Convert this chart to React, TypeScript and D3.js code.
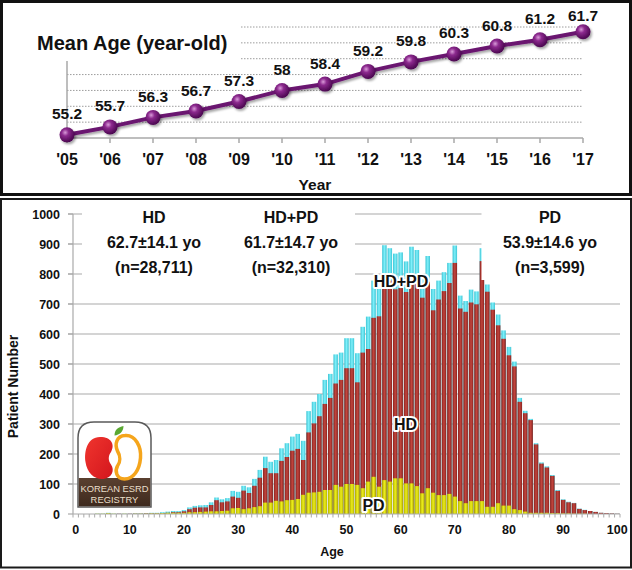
import React from 'react';
import * as d3 from 'd3';

// ---- Mean age by year ----
const years = ["'05", "'06", "'07", "'08", "'09", "'10", "'11", "'12", "'13", "'14", "'15", "'16", "'17"];
const meanAge = [55.2, 55.7, 56.3, 56.7, 57.3, 58, 58.4, 59.2, 59.8, 60.3, 60.8, 61.2, 61.7];
const meanAgeGrid = [56, 57, 58, 59, 60, 61, 62];

// ---- Patient number by age ----
const ages = d3.range(0, 101);
const hdCounts = [
  0, 0, 0, 0, 0, 0, 1, 0, 1, 0,
  1, 1, 1, 2, 2, 2, 3, 4, 6, 6,
  9, 16, 21, 22, 22, 30, 46, 39, 42, 58,
  54, 78, 70, 94, 121, 153, 136, 136, 177, 190,
  211, 217, 180, 272, 302, 326, 367, 387, 435, 447,
  486, 486, 439, 538, 550, 654, 659, 783, 778, 749,
  753, 740, 789, 787, 721, 774, 679, 715, 743, 770,
  837, 685, 674, 705, 699, 843, 741, 681, 629, 584,
  529, 492, 374, 336, 313, 232, 168, 155, 127, 77,
  47, 39, 36, 17, 13, 10, 7, 4, 3, 2,
  1,
];
const pdCounts = [
  0, 0, 0, 0, 1, 1, 3, 1, 0, 1,
  0, 1, 1, 1, 2, 2, 3, 4, 4, 4,
  4, 6, 6, 7, 8, 9, 9, 10, 11, 19,
  20, 16, 19, 23, 26, 38, 38, 44, 42, 46,
  47, 50, 64, 71, 72, 74, 80, 80, 97, 91,
  100, 100, 97, 86, 108, 124, 91, 113, 108, 119,
  119, 102, 102, 93, 69, 86, 71, 63, 63, 67,
  58, 43, 36, 43, 43, 43, 24, 24, 36, 28,
  28, 16, 13, 8, 4, 4, 4, 4, 3, 3,
  2, 2, 1, 1, 1, 0, 0, 0, 0, 0,
  0,
];
const countTicks = d3.range(0, 1001, 100);
const ageTicks = d3.range(0, 101, 10);

// ---- Group summaries ----
const groupNames = ['HD', 'HD+PD', 'PD'];
const groupMeans = ['62.7\u00B114.1 yo', '61.7\u00B114.7 yo', '53.9\u00B114.6 yo'];
const groupSizes = ['(n=28,711)', '(n=32,310)', '(n=3,599)'];

const FONT = "Arial, 'Liberation Sans', Helvetica, sans-serif";

function MeanAgePanel() {
  const x = d3.scalePoint<string>().domain(years).range([67, 583]);
  const y = d3.scaleLinear().domain([55, 62]).range([138, 27]);
  const line = d3
    .line<number>()
    .x((_, i) => x(years[i]) as number)
    .y((d) => y(d));
  return (
    <g>
      <rect x={1.5} y={1.5} width={629} height={193} fill="#fff" stroke="#111" strokeWidth={3} />
      {meanAgeGrid.map((t) => (
        <line key={t} x1={67} x2={583} y1={y(t)} y2={y(t)} stroke="#9c9c9c" strokeWidth={1} strokeDasharray="1.5,1.5" />
      ))}
      <line x1={67} x2={67} y1={138} y2={27} stroke="#a8a8a8" strokeWidth={1.5} />
      <line x1={67} x2={583} y1={138} y2={138} stroke="#a8a8a8" strokeWidth={1.5} />
      {years.map((yr) => (
        <line key={yr} x1={x(yr)} x2={x(yr)} y1={138} y2={143} stroke="#a8a8a8" strokeWidth={1.5} />
      ))}
      <rect x={27} y={24} width={214} height={37} fill="#fff" />
      <text x={37} y={50} fontFamily={FONT} fontWeight="bold" fontSize={20} fill="#111">
        Mean Age (year-old)
      </text>
      <path d={line(meanAge) || ''} fill="none" stroke="#6a1570" strokeWidth={4} filter="url(#shadow)" />
      {meanAge.map((v, i) => (
        <circle key={i} cx={x(years[i])} cy={y(v)} r={7.5} fill="url(#ball)" filter="url(#shadow)" />
      ))}
      {meanAge.map((v, i) => (
        <text
          key={'l' + i}
          x={x(years[i])}
          y={Math.max(y(v) - 15.5, 20.5)}
          textAnchor="middle"
          fontFamily={FONT}
          fontWeight="bold"
          fontSize={15.5}
          fill="#111"
        >
          {String(v)}
        </text>
      ))}
      {years.map((yr) => (
        <text key={'t' + yr} x={x(yr)} y={165} textAnchor="middle" fontFamily={FONT} fontWeight="bold" fontSize={16} fill="#111">
          {yr}
        </text>
      ))}
      <text x={315} y={190} textAnchor="middle" fontFamily={FONT} fontWeight="bold" fontSize={15.5} fill="#111">
        Year
      </text>
    </g>
  );
}

function Logo() {
  return (
    <g>
      <path d="M78,507 L78,438 Q78,422 94,422 L135,422 Q151,422 151,438 L151,507 Z" fill="#fff" stroke="#5a5a5a" strokeWidth={1.5} />
      <rect x={78.75} y={478} width={71.5} height={28.25} fill="url(#soil)" />
      <path
        d="M100,437 C87,437 84,452 85.5,462 C87,473 95,480 103.5,479 C112,478 115,470 111,464.5 C108,460.5 108,456 111,452 C115,445 112,437 100,437 Z"
        fill="url(#apple)"
      />
      <path
        d="M125,435.5 C135.5,434.5 141.5,447 140.5,458 C139.5,470 133.5,479 124.5,479 C116.5,479 114.5,471 117.5,466 C120.5,462 120.5,456 117.5,451 C114.5,444 116.5,436 125,435.5 Z"
        fill="#fff"
        stroke="#f5a51c"
        strokeWidth={3.5}
      />
      <path d="M114.5,435.5 C114.5,430 118,427 123.5,426 C123.5,431.5 119.5,435 114.5,435.5 Z" fill="#5aa832" />
      <text x={114.5} y={491.5} textAnchor="middle" fontFamily={FONT} fontSize={9.4} fill="#eadfca">
        KOREAN ESRD
      </text>
      <text x={114.5} y={503} textAnchor="middle" fontFamily={FONT} fontSize={9.4} fill="#eadfca">
        REGISTRY
      </text>
    </g>
  );
}

function AgePanel() {
  const x = d3.scaleBand<number>().domain(ages).range([73, 620]).paddingInner(0.17).paddingOuter(0.085);
  const y = d3.scaleLinear().domain([0, 1000]).range([514, 214]);
  const step = x.step();
  const groupX = [154, 291, 550];
  const halo = { paintOrder: 'stroke' as const, stroke: '#fff', strokeWidth: 4, strokeLinejoin: 'round' as const };
  return (
    <g>
      <rect x={1} y={199} width={630} height={368.5} fill="#fff" stroke="#1a1a1a" strokeWidth={2} />
      {countTicks.slice(1).map((t) => (
        <line key={t} x1={68} x2={620} y1={y(t)} y2={y(t)} stroke="#a9a9a9" strokeWidth={1.2} />
      ))}
      <line x1={73} x2={73} y1={y(1000)} y2={y(0)} stroke="#a9a9a9" strokeWidth={1.2} />
      {countTicks.map((t) => (
        <line key={'yt' + t} x1={68} x2={73} y1={y(t)} y2={y(t)} stroke="#a9a9a9" strokeWidth={1.2} />
      ))}
      {ages.map((a, i) => {
        const total = hdCounts[i] + pdCounts[i];
        return (
          <g key={a}>
            <rect x={x(a)} width={x.bandwidth()} y={y(total)} height={y(0) - y(total)} fill="url(#gCyan)" />
            <rect x={x(a)} width={x.bandwidth()} y={y(hdCounts[i])} height={y(0) - y(hdCounts[i])} fill="url(#gRed)" />
            <rect x={x(a)} width={x.bandwidth()} y={y(pdCounts[i])} height={y(0) - y(pdCounts[i])} fill="url(#gYellow)" />
          </g>
        );
      })}
      <line x1={73} x2={620} y1={514} y2={514} stroke="#a9a9a9" strokeWidth={1.2} />
      {d3.range(0, ages.length + 1).map((k) => (
        <line key={'xt' + k} x1={73 + k * step} x2={73 + k * step} y1={514} y2={517.5} stroke="#a9a9a9" strokeWidth={1} />
      ))}

      {/* summary boxes */}
      <rect x={82} y={201} width={273} height={89} fill="#fff" />
      <rect x={481.5} y={201} width={148} height={79} fill="#fff" />
      {groupNames.map((g, i) => (
        <g key={g} fontFamily={FONT} fontWeight="bold" fill="#111" textAnchor="middle">
          <text x={groupX[i]} y={222.5} fontSize={16}>{g}</text>
          <text x={groupX[i]} y={248} fontSize={16}>{groupMeans[i]}</text>
          <text x={groupX[i]} y={272.5} fontSize={16}>{groupSizes[i]}</text>
        </g>
      ))}

      {countTicks.map((t) => (
        <text key={'yl' + t} x={60} y={y(t) + 4.5} textAnchor="end" fontFamily={FONT} fontWeight="bold" fontSize={12.5} fill="#111">
          {t}
        </text>
      ))}
      {ageTicks.map((t) => (
        <text
          key={'xl' + t}
          x={(x(t) as number) + x.bandwidth() / 2}
          y={534}
          textAnchor="middle"
          fontFamily={FONT}
          fontWeight="bold"
          fontSize={12.5}
          fill="#111"
        >
          {t}
        </text>
      ))}
      <text x={332} y={556} textAnchor="middle" fontFamily={FONT} fontWeight="bold" fontSize={12.5} fill="#111">
        Age
      </text>
      <text transform="translate(18,386.5) rotate(-90)" textAnchor="middle" fontFamily={FONT} fontWeight="bold" fontSize={14} fill="#111">
        Patient Number
      </text>

      <g fontFamily={FONT} fontWeight="bold" fontSize={16} fill="#111" textAnchor="middle" style={halo}>
        <text x={401} y={287}>HD+PD</text>
        <text x={405.5} y={429.5}>HD</text>
        <text x={373.5} y={511}>PD</text>
      </g>
      <Logo />
    </g>
  );
}

export default function App() {
  return (
    <svg width={632} height={570} style={{ position: 'absolute', left: 0, top: 0, background: '#fff' }}>
      <defs>
        <radialGradient id="ball" cx="38%" cy="35%" r="65%">
          <stop offset="0" stopColor="#d99ad9" />
          <stop offset="0.35" stopColor="#8c2a8e" />
          <stop offset="1" stopColor="#4b0650" />
        </radialGradient>
        <filter id="shadow" x="-20%" y="-20%" width="140%" height="160%">
          <feDropShadow dx={1.5} dy={2} stdDeviation={1.3} floodColor="#000" floodOpacity={0.35} />
        </filter>
        <linearGradient id="gCyan" x1="0" x2="1" y1="0" y2="0">
          <stop offset="0" stopColor="#3ec4d4" />
          <stop offset="0.5" stopColor="#7ef0fa" />
          <stop offset="1" stopColor="#3ec4d4" />
        </linearGradient>
        <linearGradient id="gRed" x1="0" x2="1" y1="0" y2="0">
          <stop offset="0" stopColor="#8a231f" />
          <stop offset="0.5" stopColor="#c2453e" />
          <stop offset="1" stopColor="#8a231f" />
        </linearGradient>
        <linearGradient id="gYellow" x1="0" x2="1" y1="0" y2="0">
          <stop offset="0" stopColor="#b3b300" />
          <stop offset="0.5" stopColor="#eded1c" />
          <stop offset="1" stopColor="#b3b300" />
        </linearGradient>
        <linearGradient id="apple" x1="0" x2="1" y1="0" y2="1">
          <stop offset="0" stopColor="#f0352e" />
          <stop offset="1" stopColor="#d3161d" />
        </linearGradient>
        <linearGradient id="soil" x1="0" x2="0" y1="0" y2="1">
          <stop offset="0" stopColor="#5a4030" />
          <stop offset="1" stopColor="#3e2a1e" />
        </linearGradient>
      </defs>
      <MeanAgePanel />
      <AgePanel />
    </svg>
  );
}
